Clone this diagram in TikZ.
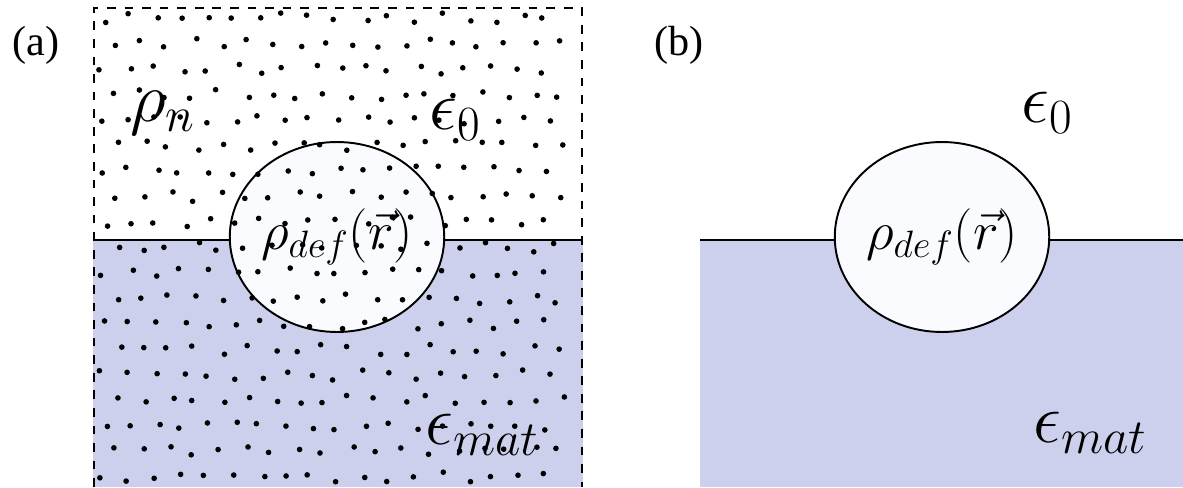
\RequirePackage{fix-cm}
\documentclass[tikz,border=0pt]{standalone}
\usepackage{fontspec}
\setmainfont{Liberation Serif}
\usetikzlibrary{shapes.geometric}
\definecolor{matblue}{RGB}{204,208,236}
\definecolor{defwhite}{RGB}{250,251,254}
\begin{document}
\begin{tikzpicture}[x=0.02cm, y=-0.02cm,
  panel/.style={font=\fontsize{24}{28}\selectfont, inner sep=0pt},
  big/.style={font=\fontsize{40}{46}\selectfont, inner sep=0pt},
  defect/.style={ellipse, draw, line width=1.1pt, fill=defwhite, minimum width=4.28cm,
    minimum height=3.8cm, inner sep=0pt, font=\fontsize{31}{34}\selectfont},
  surface/.style={line width=1.7pt},
  dot/.style={fill=black}]
  \useasboundingbox (0,0) rectangle (1183,487);
  % (a) dielectric plus neutralising charge
  \fill[matblue] (93,240) rectangle (583,487);
  \coordinate (la) at (93,240);
  \coordinate (ra) at (583,240);
  \draw[surface] (la) -- (ra);
  \draw[dashed, line width=1.1pt, dash pattern=on 5pt off 5pt]
    (94,487) -- (94,8) -- (582,8) -- (582,487);
  \node[defect] (defa) at (337,237) {$\rho_{def}(\vec{r})$};
  \pgfmathsetseed{11}
  \foreach \i in {0,...,17}{
    \foreach \j in {0,...,18}{
      \pgfmathsetmacro\dx{104+26*\i+13*mod(\j,2)+11*(rnd-0.5)}
      \pgfmathsetmacro\dy{18+25.5*\j+10*(rnd-0.5)}
      \fill[dot] (\dx,\dy) circle (1.6pt);
    }
  }
  \node[panel] (pa) at (36,45) {(a)};
  \node[big] (rhon) at (163,113) {$\rho_n$};
  \node[big] (epsa) at (455,120) {$\epsilon_0$};
  \node[big] (mata) at (482,435) {$\epsilon_{mat}$};
  % (b) dielectric only
  \fill[matblue] (700,240) rectangle (1183,487);
  \coordinate (lb) at (700,240);
  \coordinate (rb) at (1183,240);
  \draw[surface] (lb) -- (rb);
  \node[defect] (defb) at (942,237) {$\rho_{def}(\vec{r})$};
  \node[panel] (pb) at (679,45) {(b)};
  \node[big] (epsb) at (1047,113) {$\epsilon_0$};
  \node[big] (matb) at (1090,433) {$\epsilon_{mat}$};
\end{tikzpicture}
\end{document}
